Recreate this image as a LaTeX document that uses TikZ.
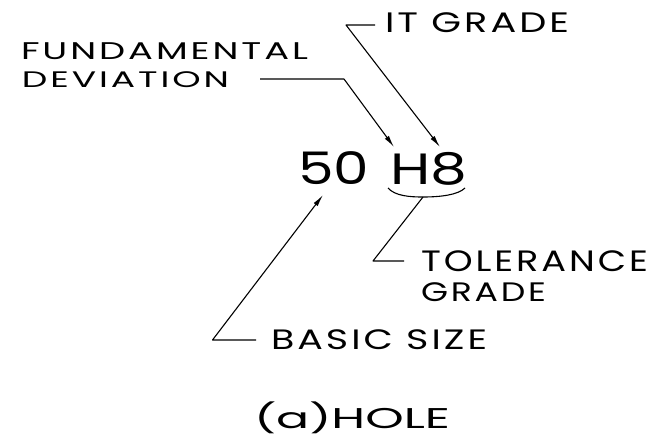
\documentclass[tikz,border=0pt]{standalone}
\usepackage{fontspec}
\setmainfont{Poppins}
\usepackage{graphicx}
\usetikzlibrary{arrows.meta}
\newcommand{\fitlbl}[3]{\resizebox*{#1pt}{#2pt}{\addfontfeature{LetterSpace=8}#3}}
\begin{document}
\begin{tikzpicture}[x=1pt,y=-1pt,
  lbl/.style={inner sep=0pt, outer sep=0pt, anchor=north west},
  leader/.style={line width=1.1pt, line join=round},
  arr/.style={leader, -{Latex[length=12pt,width=5pt]}}]
\useasboundingbox (0,0) rectangle (653,440);
% texts
\node[lbl] (itg) at (385,13) {\fitlbl{184}{20}{IT\ GRADE}};
\node[lbl] (fund) at (21,43) {\fitlbl{287}{17}{FUNDAMENTAL}};
\node[lbl] (dev) at (22,72) {\fitlbl{207}{16}{DEVIATION}};
\node[lbl] (fifty) at (298,152) {\resizebox*{71pt}{33pt}{50}};
\node[lbl] (h8) at (390,152) {\resizebox*{77pt}{33pt}{H8}};
\node[lbl] (tol) at (421,251) {\fitlbl{227}{21}{TOLERANCE}};
\node[lbl] (tgrade) at (421,283) {\fitlbl{125}{19}{GRADE}};
\node[lbl] (basic) at (271,330) {\fitlbl{216}{20}{BASIC\ SIZE}};
\node[lbl] (hole) at (254,402) {\resizebox*{196pt}{32pt}{(a)HOLE}};
% coordinates
\coordinate (itStub) at (375,25);
\coordinate (itBend) at (346,25);
\coordinate (itTip) at (440,147);
\coordinate (fdStub) at (260,79);
\coordinate (fdBend) at (344,79);
\coordinate (fdTip) at (394,147);
\coordinate (brL) at (388,188);
\coordinate (brM) at (423,197);
\coordinate (brR) at (465,188);
\coordinate (tolBend) at (373,261);
\coordinate (tolStub) at (404,261);
\coordinate (bsTip) at (323,195);
\coordinate (bsBend) at (212.5,340);
\coordinate (bsStub) at (256,340);
% leaders
\draw[arr] (itStub) -- (itBend) -- (itTip);
\draw[arr] (fdStub) -- (fdBend) -- (fdTip);
\draw[leader] (brL) .. controls (395,196) and (410,197) .. (brM) .. controls (440,197) and (458,195) .. (brR);
\draw[leader] (brM) -- (tolBend) -- (tolStub);
\draw[arr] (bsStub) -- (bsBend) -- (bsTip);
\end{tikzpicture}
\end{document}
